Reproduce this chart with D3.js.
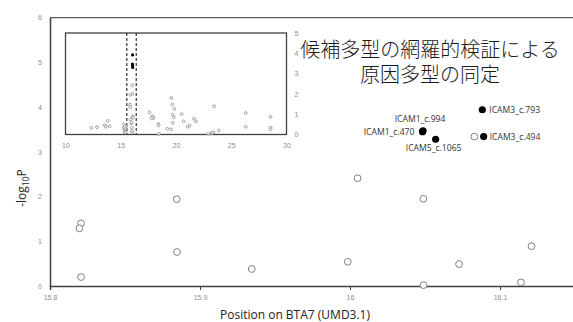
<!DOCTYPE html>
<meta charset="utf-8"/>
<head>
<style>
  body { margin:0; background:#fff; }
  svg { display:block; font-family:"Open Sans","Noto Sans",sans-serif; }
  .tick text { fill:#8c8c8c; }
</style>
<script src="https://d3js.org/d3.v7.min.js" charset="utf-8"></script>
</head>
<body>
<script>
  // main chart, position in Mb vs -log10P
  var mainX = [15.8207, 15.8196, 15.8207, 15.8845, 15.8847, 15.9345, 16.0051, 16.0489, 15.9985, 16.0727, 16.1210, 16.0490, 16.1140, 16.0829];
  var mainY = [1.40, 1.29, 0.20, 1.94, 0.76, 0.38, 2.41, 1.95, 0.54, 0.49, 0.89, 0.02, 0.08, 3.34];

  var sigNames = ["ICAM3_c.793", "ICAM1_c.994", "ICAM1_c.470", "ICAM5_c.1065", "ICAM3_c.494"];
  var sigX = [16.0882, 16.0487, 16.0483, 16.0571, 16.0891];
  var sigY = [3.94, 3.47, 3.45, 3.28, 3.34];

  var mainXTicks = [15.8, 15.9, 16, 16.1];
  var mainYTicks = [0, 1, 2, 3, 4, 5, 6];

  // inset, whole chromosome window (Mb)
  var insetX = [12.34, 12.85, 13.54, 13.66, 13.81, 13.99,
    15.29, 15.29, 15.35, 15.36, 15.50, 15.42, 15.38, 15.45,
    15.88, 15.95, 16.07, 16.00, 16.05, 15.83, 15.86, 15.88, 16.06, 16.04, 15.98, 16.12, 16.02,
    17.60, 17.87, 17.96, 17.80, 18.41, 18.42, 18.47, 19.20, 19.55,
    19.58, 19.67, 19.85, 19.70, 19.80, 19.70, 20.51, 20.69, 21.05, 21.23, 21.62, 21.80,
    22.91, 23.21, 23.39, 23.30, 23.45, 23.87, 26.31, 26.31, 28.56, 28.56, 28.56];
  var insetY = [0.33, 0.36, 0.46, 0.38, 0.67, 0.41,
    0.49, 0.33, 0.20, 0.13, 0.41, 0.28, 0.38, 0.10,
    0.74, 0.55, 0.90, 0.33, 0.10, 1.47, 1.34, 1.96, 2.00, 2.42, 0.59, 0.83, 0.18,
    1.09, 0.90, 0.82, 0.79, 0.52, 0.45, 0.03, 0.28, 0.25,
    1.80, 1.47, 1.26, 0.98, 0.85, 0.57, 1.01, 0.65, 0.38, 0.44, 0.78, 0.65,
    0.03, 0.06, 0.10, 0.08, 1.39, 0.20, 1.06, 0.38, 0.87, 0.34, 0.26];
  var insetSigX = [16.07, 16.06, 16.07, 16.08];
  var insetSigY = [3.92, 3.47, 3.38, 3.30];
  var insetWindow = [15.55, 16.4];
  var insetXTicks = [10, 15, 20, 25, 30];
  var insetYTicks = [0, 1, 2, 3, 4, 5];

  var titleLines = ["候補多型の網羅的検証による", "原因多型の同定"];

  var width = 573, height = 322;
  var plain = function(d){ return d; };

  var svg = d3.select("body").append("svg")
    .attr("width", width)
    .attr("height", height);

  var x = d3.scaleLinear().domain([15.8, 16.15]).range([50, 575]);
  var y = d3.scaleLinear().domain([0, 6]).range([286, 17.6]);

  // top border of plot area
  svg.append("line")
    .attr("x1", 50).attr("x2", width)
    .attr("y1", y(6)).attr("y2", y(6))
    .attr("stroke", "#595959").attr("stroke-width", 1.2);

  var xAxis = svg.append("g")
    .attr("transform", "translate(0," + y(0) + ")")
    .call(d3.axisBottom(x).tickValues(mainXTicks).tickSize(4).tickPadding(5).tickFormat(plain));
  xAxis.select(".domain").attr("stroke", "#404040").attr("stroke-width", 1.5);
  xAxis.selectAll(".tick line").attr("stroke", "#404040");
  xAxis.selectAll(".tick text").style("font-size", "7px");
  xAxis.select(".tick").select("line").remove();

  var yAxis = svg.append("g")
    .attr("transform", "translate(50,0)")
    .call(d3.axisLeft(y).tickValues(mainYTicks).tickSize(0).tickPadding(8).tickFormat(plain));
  yAxis.select(".domain").attr("stroke", "#404040").attr("stroke-width", 1.5);
  yAxis.selectAll(".tick text").style("font-size", "7px");

  // open circles
  svg.selectAll(".pt")
    .data(mainX.map(function(d, i){ return [d, mainY[i]]; }))
    .enter().append("circle")
    .attr("class", "pt")
    .attr("cx", function(d){ return x(d[0]); })
    .attr("cy", function(d){ return y(d[1]); })
    .attr("r", 3.4)
    .attr("fill", "#fff")
    .attr("stroke", "#808080")
    .attr("stroke-width", 1);

  var sig = sigX.map(function(d, i){ return {x: d, y: sigY[i], name: sigNames[i]}; });
  svg.selectAll(".sig")
    .data(sig)
    .enter().append("circle")
    .attr("class", "sig")
    .attr("cx", function(d){ return x(d.x); })
    .attr("cy", function(d){ return y(d.y); })
    .attr("r", 3.6)
    .attr("fill", "#000");

  // where each label sits relative to its point
  var labelPos = {
    "ICAM3_c.793": {dx: 7, dy: 3.5, anchor: "start"},
    "ICAM1_c.994": {dx: -3, dy: -9, anchor: "middle"},
    "ICAM1_c.470": {dx: -8, dy: 3.5, anchor: "end"},
    "ICAM5_c.1065": {dx: -2, dy: 12, anchor: "middle"},
    "ICAM3_c.494": {dx: 6, dy: 3.5, anchor: "start"}
  };
  svg.selectAll(".lbl")
    .data(sig)
    .enter().append("text")
    .attr("class", "lbl")
    .attr("x", function(d){ return x(d.x) + labelPos[d.name].dx; })
    .attr("y", function(d){ return y(d.y) + labelPos[d.name].dy; })
    .attr("text-anchor", function(d){ return labelPos[d.name].anchor; })
    .style("font-size", "8.6px")
    .attr("fill", "#333")
    .text(function(d){ return d.name; });

  // axis titles
  svg.append("text")
    .attr("x", 295).attr("y", 319)
    .attr("text-anchor", "middle")
    .style("font-size", "12px")
    .attr("fill", "#222")
    .text("Position on BTA7 (UMD3.1)");

  var yl = svg.append("text")
    .attr("transform", "translate(26,188) rotate(-90)")
    .attr("text-anchor", "middle")
    .style("font-size", "12px")
    .attr("fill", "#222");
  yl.append("tspan").text("-log");
  yl.append("tspan").attr("dy", 3).style("font-size", "8.5px").text("10");
  yl.append("tspan").attr("dy", -3).text("P");

  // inset
  var ix = d3.scaleLinear().domain([10, 30]).range([65.5, 286.5]);
  var iy = d3.scaleLinear().domain([0, 5]).range([134.5, 33]);

  svg.append("rect")
    .attr("x", ix(10)).attr("y", iy(5))
    .attr("width", ix(30) - ix(10)).attr("height", iy(0) - iy(5))
    .attr("fill", "#fff")
    .attr("stroke", "#404040").attr("stroke-width", 1.3);

  var ixAxis = svg.append("g")
    .attr("transform", "translate(0," + iy(0) + ")")
    .call(d3.axisBottom(ix).tickValues(insetXTicks).tickSize(0).tickPadding(9).tickFormat(plain));
  ixAxis.select(".domain").remove();
  ixAxis.selectAll(".tick text").style("font-size", "7px");

  var iyAxis = svg.append("g")
    .attr("transform", "translate(" + ix(30) + ",0)")
    .call(d3.axisRight(iy).tickValues(insetYTicks).tickSize(0).tickPadding(8).tickFormat(plain));
  iyAxis.select(".domain").remove();
  iyAxis.selectAll(".tick text").style("font-size", "7px");

  insetWindow.forEach(function(v){
    svg.append("line")
      .attr("x1", ix(v)).attr("x2", ix(v))
      .attr("y1", iy(5)).attr("y2", iy(0))
      .attr("stroke", "#222").attr("stroke-width", 1.1)
      .attr("stroke-dasharray", "3,2");
  });

  svg.selectAll(".ipt")
    .data(insetX.map(function(d, i){ return [d, insetY[i]]; }))
    .enter().append("circle")
    .attr("class", "ipt")
    .attr("cx", function(d){ return ix(d[0]); })
    .attr("cy", function(d){ return iy(d[1]); })
    .attr("r", 1.4)
    .attr("fill", "#fff")
    .attr("stroke", "#808080")
    .attr("stroke-width", 0.7);

  svg.selectAll(".isig")
    .data(insetSigX.map(function(d, i){ return [d, insetSigY[i]]; }))
    .enter().append("circle")
    .attr("class", "isig")
    .attr("cx", function(d){ return ix(d[0]); })
    .attr("cy", function(d){ return iy(d[1]); })
    .attr("r", 1.6)
    .attr("fill", "#000");

  // title
  var title = svg.append("text")
    .attr("text-anchor", "middle")
    .style("font-family", "'Noto Sans CJK JP', sans-serif")
    .style("font-size", "20px")
    .style("font-weight", 300)
    .attr("fill", "#1a1a1a");
  titleLines.forEach(function(t, i){
    title.append("tspan").attr("x", 430).attr("y", 57 + i * 25).text(t);
  });
</script>
</body>
</html>
